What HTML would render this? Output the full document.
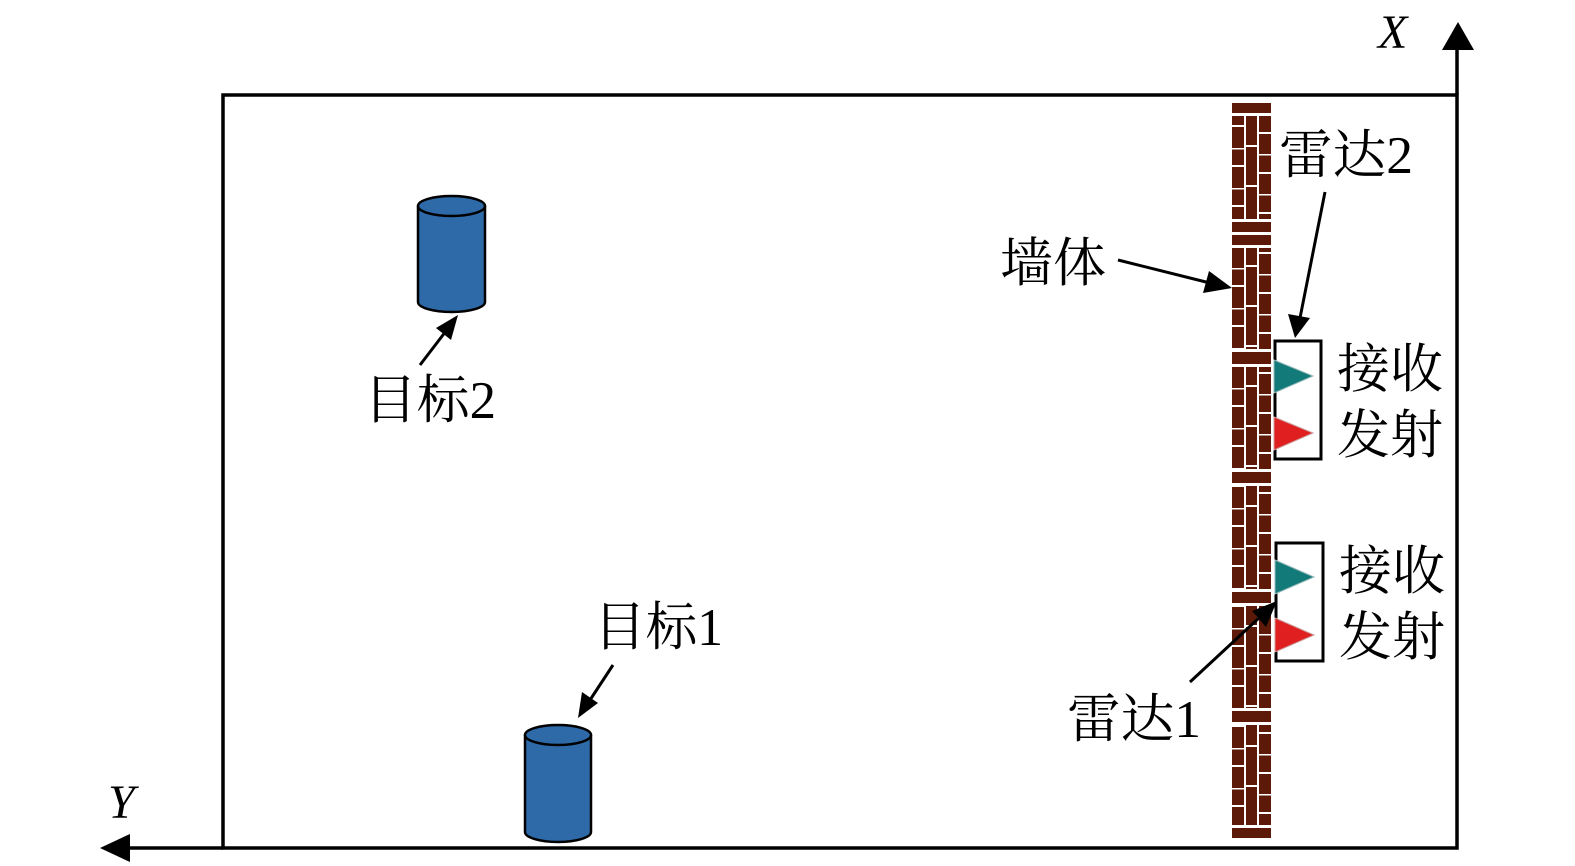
<!DOCTYPE html>
<html><head><meta charset="utf-8"><style>
html,body{margin:0;padding:0;background:#fff;}
svg{display:block}
text{font-family:"Liberation Serif","Noto Serif CJK SC","Noto Sans CJK SC",serif;fill:#000}
</style></head><body>
<svg width="1575" height="866" viewBox="0 0 1575 866" xmlns="http://www.w3.org/2000/svg">
<defs>
<pattern id="brick" x="1232" y="0" width="39" height="40" patternUnits="userSpaceOnUse">
<rect width="39" height="40" fill="#5e1a08"/>
<rect x="12" y="0" width="2" height="40" fill="#fff"/>
<rect x="25" y="0" width="2" height="40" fill="#fff"/>
<rect x="0" y="5" width="12" height="2" fill="#fff"/>
<rect x="14" y="25" width="11" height="2" fill="#fff"/>
<rect x="27" y="12" width="12" height="2" fill="#fff"/>
<rect x="0" y="28" width="12" height="1.5" fill="#fff"/>
<rect x="27" y="34" width="12" height="1.5" fill="#fff"/>
</pattern>
</defs>
<!-- frame -->
<rect x="223" y="95" width="1234" height="753" fill="none" stroke="#000" stroke-width="3.5"/>
<line x1="1457" y1="95" x2="1457" y2="45" stroke="#000" stroke-width="3.5"/>
<path d="M1442,50 L1458,22 L1474,50 z" fill="#000"/>
<line x1="223" y1="848" x2="125" y2="848" stroke="#000" stroke-width="3.5"/>
<path d="M130,834 L100,848 L130,862 z" fill="#000"/>
<text x="1378" y="48" font-size="48" font-style="italic">X</text>
<text x="108" y="818" font-size="48" font-style="italic">Y</text>
<!-- wall -->
<rect x="1232" y="116" width="39" height="712" fill="url(#brick)"/>
<g fill="#5e1a08">
<rect x="1232" y="103" width="39" height="10"/>
<rect x="1232" y="222" width="39" height="10"/>
<rect x="1232" y="235" width="39" height="10"/>
<rect x="1232" y="352" width="39" height="12"/>
<rect x="1232" y="472" width="39" height="11"/>
<rect x="1232" y="592" width="39" height="11"/>
<rect x="1232" y="711" width="39" height="11"/>
<rect x="1232" y="828" width="39" height="10"/>
</g>
<g fill="#fff">
<rect x="1232" y="113" width="39" height="3"/>
<rect x="1232" y="219" width="39" height="3"/>
<rect x="1232" y="232" width="39" height="3"/>
<rect x="1232" y="245" width="39" height="3"/>
<rect x="1232" y="349" width="39" height="3"/>
<rect x="1232" y="364" width="39" height="3"/>
<rect x="1232" y="469" width="39" height="3"/>
<rect x="1232" y="483" width="39" height="3"/>
<rect x="1232" y="589" width="39" height="3"/>
<rect x="1232" y="603" width="39" height="3"/>
<rect x="1232" y="708" width="39" height="3"/>
<rect x="1232" y="722" width="39" height="3"/>
<rect x="1232" y="825" width="39" height="3"/>
</g>
<!-- radars -->
<rect x="1275" y="341" width="46" height="118" fill="none" stroke="#000" stroke-width="3"/>
<path d="M1274,360 L1313,376 L1274,393 z" fill="#127a78" stroke="#9bb" stroke-width="1"/>
<path d="M1274,417 L1313,433 L1274,450 z" fill="#e02020" stroke="#c99" stroke-width="1"/>
<rect x="1276" y="543" width="47" height="118" fill="none" stroke="#000" stroke-width="3"/>
<path d="M1275,560 L1314,577 L1275,594 z" fill="#127a78" stroke="#9bb" stroke-width="1"/>
<path d="M1275,618 L1314,635 L1275,652 z" fill="#e02020" stroke="#c99" stroke-width="1"/>
<!-- cylinders -->
<g fill="#2e6aa8" stroke="#000" stroke-width="2.5">
<path d="M418,206 L418,302 A33.5,10 0 0 0 485,302 L485,206"/>
<ellipse cx="451.5" cy="206" rx="33.5" ry="10"/>
<path d="M525,735 L525,832 A33,10 0 0 0 591,832 L591,735"/>
<ellipse cx="558" cy="735" rx="33" ry="10"/>
</g>
<!-- arrows -->
<g stroke="#000" stroke-width="3" fill="none">
<line x1="1118" y1="260" x2="1210" y2="283"/>
<line x1="1325" y1="192" x2="1300" y2="318"/>
<line x1="420" y1="365" x2="446" y2="331"/>
<line x1="613" y1="665" x2="590" y2="700"/>
<line x1="1190" y1="682" x2="1260" y2="617"/>
</g>
<g fill="#000">
<path d="M1232,288 L1203,293 L1209,271 z"/>
<path d="M1295,338 L1288,314 L1310,318 z"/>
<path d="M458,315 L451,340 L436,328 z"/>
<path d="M578,718 L582,692 L598,703 z"/>
<path d="M1277,601 L1266,627 L1252,611 z"/>
</g>
<!-- labels -->
<g font-size="53">
<text x="1279" y="173" textLength="134" lengthAdjust="spacingAndGlyphs">雷达2</text>
<text x="1000" y="281">墙体</text>
<text x="1337" y="387">接收</text>
<text x="1337" y="453">发射</text>
<text x="1339" y="589">接收</text>
<text x="1339" y="655">发射</text>
<text x="364" y="418" textLength="132" lengthAdjust="spacingAndGlyphs">目标2</text>
<text x="594" y="645" textLength="129" lengthAdjust="spacingAndGlyphs">目标1</text>
<text x="1067" y="737" textLength="134" lengthAdjust="spacingAndGlyphs">雷达1</text>
</g>
</svg>
</body></html>
